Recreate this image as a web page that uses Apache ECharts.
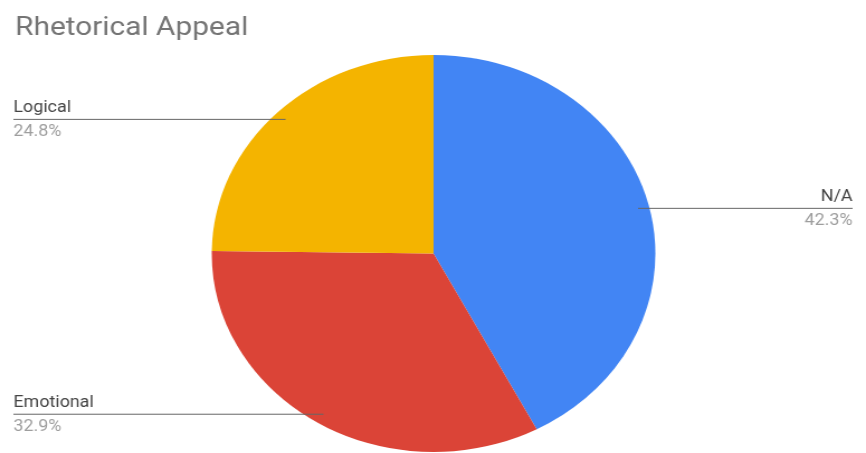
<!DOCTYPE html>
<html>
<head>
<meta charset="utf-8">
<script src="https://cdn.jsdelivr.net/npm/echarts@6/dist/echarts.min.js"></script>
<style>
html,body{margin:0;padding:0;background:#fff;overflow:hidden;}
#wrap{width:866px;height:453px;overflow:hidden;position:relative;}
#chart{width:775px;height:453px;transform:scaleX(1.11742);transform-origin:0 0;}
</style>
</head>
<body>
<div id="wrap"><div id="chart"></div></div>
<script>
const titleText = 'Rhetorical Appeal';
const categories = ['N/A', 'Emotional', 'Logical'];
const values = [42.3, 32.9, 24.8];
const colors = ['#4285f4', '#db4437', '#f4b400'];

const LABEL_FONT = '16px Roboto';
const ctx = document.createElement('canvas').getContext('2d');
ctx.font = LABEL_FONT;
function textW(s) { return ctx.measureText(s).width; }
function pctText(v) { return v.toFixed(1) + '%'; }

const chart = echarts.init(document.getElementById('chart'), null, {renderer: 'canvas'});
const pieData = categories.map((c, i) => ({name: c, value: values[i], itemStyle: {color: colors[i]}}));
const labelData = categories.map((c, i) => {
  const w = Math.max(textW(c), textW(pctText(values[i])));
  return {name: c, value: values[i], label: {distanceToLabelLine: -w}};
});

chart.setOption({
  animation: false,
  backgroundColor: '#ffffff',
  title: {
    text: titleText,
    left: 8.5, top: 9.5,
    textStyle: {fontFamily: 'Roboto', fontWeight: 'normal', fontSize: 26.7, color: '#757575'}
  },
  series: [
    {
      type: 'pie',
      center: [388, 253.5],
      radius: [0, 198.5],
      startAngle: 90,
      clockwise: true,
      silent: true,
      label: {show: false},
      labelLine: {show: false},
      itemStyle: {borderWidth: 0},
      data: pieData
    },
    {
      type: 'pie',
      center: [388, 253.5],
      radius: [0, 188.5],
      startAngle: 90,
      clockwise: true,
      silent: true,
      z: 5,
      itemStyle: {color: 'rgba(0,0,0,0)', borderWidth: 0},
      label: {
        show: true,
        position: 'outer',
        alignTo: 'edge',
        edgeDistance: 12,
        formatter: function (p) { return '{n|' + p.name + '}\n{p|' + pctText(p.value) + '}'; },
        rich: {
          n: {fontFamily: 'Roboto', fontSize: 16, color: '#444444', lineHeight: 25},
          p: {fontFamily: 'Roboto', fontSize: 16, color: '#9e9e9e', lineHeight: 22}
        }
      },
      labelLine: {show: true, length: 0, length2: 0, smooth: false, lineStyle: {color: '#666666', width: 1}},
      data: labelData
    }
  ]
});
</script>
</body>
</html>
